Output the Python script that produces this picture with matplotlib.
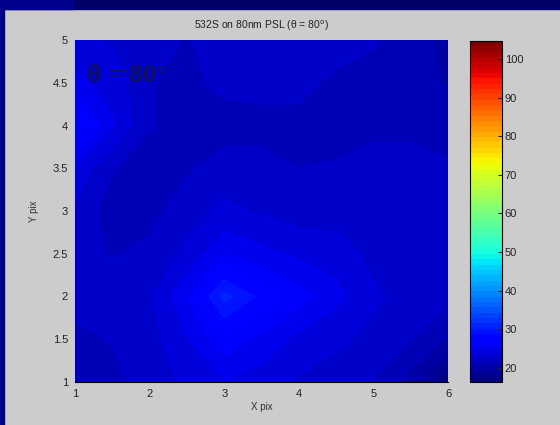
import matplotlib
matplotlib.use("Agg")
import matplotlib.pyplot as plt
import numpy as np
from matplotlib.patches import Rectangle

# scattered intensity sampled every half pixel, rows run from y = 1 up to y = 5
x_pix = [1, 1.5, 2, 2.5, 3, 3.5, 4, 4.5, 5, 5.5, 6]
y_pix = [1, 1.5, 2, 2.5, 3, 3.5, 4, 4.5, 5]
intensity = [
    [20.5, 21.5, 22.5, 23.5, 24.5, 24.0, 23.0, 22.5, 21.8, 20.0, 17.0],  # y = 1
    [21.5, 22.0, 22.6, 24.5, 26.8, 25.5, 24.2, 23.5, 22.8, 22.0, 20.5],  # y = 1.5
    [22.5, 22.5, 23.0, 25.8, 30.5, 28.2, 26.5, 25.0, 23.5, 22.5, 22.3],  # y = 2
    [22.3, 21.8, 22.2, 23.5, 25.8, 25.0, 24.3, 24.0, 22.8, 22.5, 22.3],  # y = 2.5
    [23.0, 21.2, 21.5, 22.5, 23.5, 23.0, 22.5, 22.5, 22.5, 22.3, 22.0],  # y = 3
    [24.5, 22.0, 21.2, 21.7, 22.5, 22.5, 21.9, 22.0, 22.5, 22.5, 22.0],  # y = 3.5
    [28.5, 24.8, 22.0, 21.3, 21.3, 21.3, 21.3, 21.5, 21.5, 21.5, 21.5],  # y = 4
    [25.0, 24.0, 22.0, 21.5, 22.3, 22.5, 22.5, 21.5, 21.5, 21.0, 20.5],  # y = 4.5
    [23.5, 23.0, 22.5, 21.8, 22.5, 23.0, 23.0, 22.8, 22.0, 21.5, 20.0],  # y = 5
]
contour_levels = [16.5, 17.9, 19.3, 20.6, 21.9, 23.2, 24.6, 25.9, 27.3, 28.6, 30.0, 31.3]
c_min, c_max = 16.3, 104.7
cbar_ticks = [20, 30, 40, 50, 60, 70, 80, 90, 100]

plt.rcParams['font.family'] = ['Liberation Sans', 'DejaVu Sans']

fig = plt.figure(figsize=(5.6, 4.25), dpi=100)
fig.patch.set_facecolor('#cccccc')
# slide frame around the figure window
fig.patches.append(Rectangle((0, 1 - 9 / 425), 1, 9 / 425, transform=fig.transFigure,
                             color='#000066', zorder=-5))
fig.patches.append(Rectangle((0, 1 - 9 / 425), 73 / 560, 9 / 425,
                             transform=fig.transFigure, color='#00008c', zorder=-5))
fig.patches.append(Rectangle((0, 0), 4 / 560, 1, transform=fig.transFigure,
                             color='#00008c', zorder=-5))

ax = fig.add_axes([75 / 560, 1 - 382 / 425, 373 / 560, 342 / 425])
cax = fig.add_axes([470 / 560, 1 - 382 / 425, 32 / 560, 341 / 425])

cmap = plt.get_cmap('jet', 64)
X, Y = np.meshgrid(x_pix, y_pix)
Z = np.array(intensity)
cs = ax.contourf(X, Y, Z, levels=contour_levels, cmap=cmap, vmin=c_min, vmax=c_max)

ax.set_xlim(1, 6)
ax.set_ylim(1, 5)
ax.set_xticks([1, 2, 3, 4, 5, 6])
ax.set_yticks([1, 1.5, 2, 2.5, 3, 3.5, 4, 4.5, 5])
ax.set_yticklabels(['1', '1.5', '2', '2.5', '3', '3.5', '4', '4.5', '5'])
ax.tick_params(length=0, labelsize=8, pad=5, colors='#222222')
for side in ['top', 'right', 'left']:
    ax.spines[side].set_visible(False)
ax.spines['bottom'].set_color('black')
ax.spines['bottom'].set_linewidth(0.8)

ax.set_xlabel('X pix', fontsize=7, color='#333333', labelpad=2)
ax.set_ylabel('Y pix', fontsize=7, color='#333333', labelpad=10)
ax.set_title('532S on 80nm PSL (θ = 80$^{\\rm o}$)', fontsize=7.5, color='#222222', pad=8)

ax.text(1.17, 4.58, 'θ = 80°', family=['Liberation Serif', 'DejaVu Serif'],
        fontsize=19, fontweight='bold', color='#10105a', va='center')

sm = plt.cm.ScalarMappable(cmap=cmap, norm=plt.Normalize(c_min, c_max))
cb = fig.colorbar(sm, cax=cax, ticks=cbar_ticks)
cb.outline.set_edgecolor('black')
cb.outline.set_linewidth(0.8)
cax.tick_params(direction='in', length=3, labelsize=8, pad=2, colors='#222222')

fig.savefig('out.png', dpi=100, facecolor=fig.get_facecolor())
